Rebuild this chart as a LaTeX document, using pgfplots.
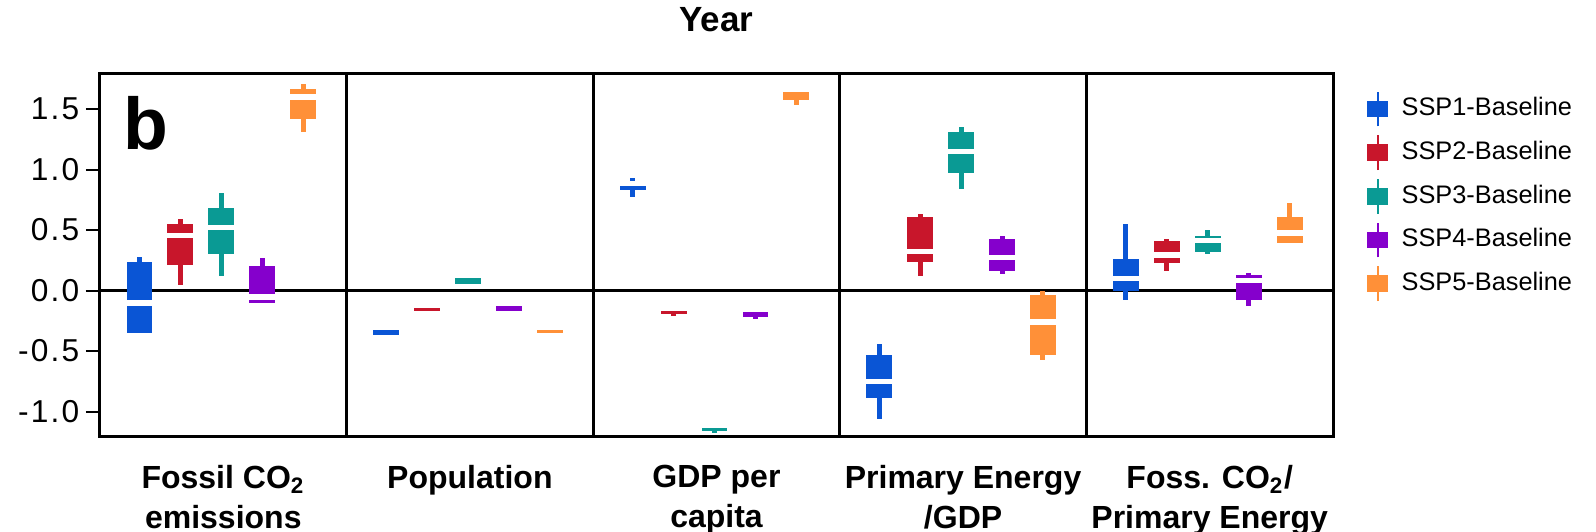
\documentclass[border=0pt]{standalone}
\usepackage{fontspec}
\setmainfont{Liberation Sans}
\newfontfamily\tickfont[LetterSpace=7]{Liberation Sans}
\usepackage{pgfplots}
\pgfplotsset{compat=1.18}
\usepgfplotslibrary{statistics}
\definecolor{ssp1}{HTML}{0A55D5}
\definecolor{ssp2}{HTML}{C8162B}
\definecolor{ssp3}{HTML}{0A9A94}
\definecolor{ssp4}{HTML}{8500CC}
\definecolor{ssp5}{HTML}{FF9038}
\pgfplotsset{
  sspbox/.style={
    boxplot/draw direction=y,
    boxplot/box extend=0.105,
    boxplot/whisker extend=0,
    boxplot/every box/.style={draw=none, fill=#1},
    boxplot/every whisker/.style={draw=#1, line width=1.5pt},
    boxplot/every median/.style={draw=white, line width=1.6pt},
    solid, mark=none, forget plot,
  },
  nomed/.style={boxplot/every median/.style={draw=none}},
}
% #1 colour, #2 extra style, #3 position, #4 lower whisker, #5 lower quartile, #6 median, #7 upper quartile, #8 upper whisker
\newcommand{\bx}[8]{\addplot[sspbox=#1, #2, boxplot prepared={draw position=#3, lower whisker=#4, lower quartile=#5, median=#6, upper quartile=#7, upper whisker=#8}] coordinates {};}
\newcommand{\legimg}[1]{\addlegendimage{legend image code/.code={
   \draw[#1, line width=0.5pt] (3pt,-5.2pt) -- (3pt,5.2pt);
   \fill[#1] (0pt,-2.3pt) rectangle (6pt,2.3pt);}}}
\begin{document}
\begin{tikzpicture}
\useasboundingbox (-30pt,-28.5pt) rectangle (448.8pt,131.1pt);
\begin{axis}[
  scale only axis, width=369.9pt, height=108.9pt,
  xmin=0, xmax=5, ymin=-1.21, ymax=1.79,
  axis line style={line width=0.9pt},
  ytick={-1,-0.5,0,0.5,1,1.5},
  yticklabels={-1.0,-0.5,0.0,0.5,1.0,1.5},
  ytick pos=left, tick align=outside, major tick length=4.2pt,
  ytick style={line width=0.6pt, black},
  yticklabel style={font=\tickfont\fontsize{9.5}{11}\selectfont, xshift=1.5pt},
  xtick={0.5,1.5,2.5,3.5,4.5},
  xticklabels={{Fossil CO\textsubscript{2}\\emissions},{Population},{GDP per\\capita},{Primary Energy\\/GDP},{Foss. CO\textsubscript{2}/\\Primary Energy}},
  xtick style={draw=none},
  xticklabel style={align=center, font=\bfseries\fontsize{9.6}{12}\selectfont, inner sep=0pt, yshift=-4pt},
  extra x ticks={1,2,3,4}, extra x tick labels={},
  extra x tick style={grid=major, major grid style={black, line width=0.9pt}},
  extra y ticks={0}, extra y tick labels={},
  extra y tick style={grid=major, major grid style={black, line width=0.75pt}},
  legend cell align=left,
  legend style={at={(1,1)}, anchor=north west, xshift=10pt, yshift=-4.9pt, draw=none, fill=none,
    font=\fontsize{7.6}{9}\selectfont, row sep=2.2pt, inner sep=0pt,
    nodes={text height=5.5pt, text depth=1.5pt, inner sep=1pt},
    /tikz/every odd column/.append style={column sep=3pt}},
]
\legimg{ssp1}\addlegendentry{SSP1-Baseline}
\legimg{ssp2}\addlegendentry{SSP2-Baseline}
\legimg{ssp3}\addlegendentry{SSP3-Baseline}
\legimg{ssp4}\addlegendentry{SSP4-Baseline}
\legimg{ssp5}\addlegendentry{SSP5-Baseline}
% Fossil CO2 emissions
\bx{ssp1}{}{0.160}{-0.35}{-0.35}{-0.103}{0.24}{0.28}
\bx{ssp2}{}{0.326}{0.05}{0.21}{0.455}{0.55}{0.59}
\bx{ssp3}{}{0.492}{0.12}{0.30}{0.523}{0.68}{0.81}
\bx{ssp4}{}{0.658}{-0.10}{-0.10}{-0.054}{0.205}{0.27}
\bx{ssp5}{}{0.824}{1.31}{1.417}{1.60}{1.666}{1.71}
% Population
\bx{ssp1}{nomed}{1.160}{-0.371}{-0.371}{-0.35}{-0.327}{-0.327}
\bx{ssp2}{nomed}{1.326}{-0.17}{-0.17}{-0.16}{-0.147}{-0.147}
\bx{ssp3}{nomed}{1.492}{0.054}{0.054}{0.08}{0.101}{0.101}
\bx{ssp4}{nomed}{1.658}{-0.170}{-0.170}{-0.15}{-0.126}{-0.126}
\bx{ssp5}{nomed}{1.824}{-0.352}{-0.352}{-0.34}{-0.327}{-0.327}
% GDP per capita
\bx{ssp1}{}{2.160}{0.77}{0.83}{0.887}{0.87}{0.93}
\bx{ssp2}{nomed}{2.326}{-0.211}{-0.195}{-0.18}{-0.167}{-0.167}
\bx{ssp3}{nomed}{2.492}{-1.174}{-1.157}{-1.145}{-1.133}{-1.133}
\bx{ssp4}{nomed}{2.658}{-0.238}{-0.217}{-0.2}{-0.175}{-0.175}
\bx{ssp5}{nomed}{2.824}{1.533}{1.571}{1.6}{1.641}{1.641}
% Primary Energy / GDP
\bx{ssp1}{}{3.160}{-1.06}{-0.885}{-0.751}{-0.53}{-0.44}
\bx{ssp2}{}{3.326}{0.12}{0.233}{0.321}{0.61}{0.63}
\bx{ssp3}{}{3.492}{0.84}{0.97}{1.147}{1.31}{1.35}
\bx{ssp4}{}{3.658}{0.14}{0.165}{0.276}{0.43}{0.45}
\bx{ssp5}{}{3.824}{-0.575}{-0.53}{-0.26}{-0.04}{0.0}
% Foss. CO2 / Primary Energy
\bx{ssp1}{}{4.160}{-0.08}{0.0}{0.099}{0.26}{0.55}
\bx{ssp2}{}{4.326}{0.165}{0.23}{0.295}{0.41}{0.43}
\bx{ssp3}{}{4.492}{0.30}{0.321}{0.415}{0.454}{0.50}
\bx{ssp4}{}{4.658}{-0.128}{-0.079}{0.081}{0.126}{0.142}
\bx{ssp5}{}{4.824}{0.39}{0.39}{0.477}{0.61}{0.72}
\node[anchor=base west, font=\bfseries\fontsize{22}{24}\selectfont, inner sep=0pt, xshift=7pt, yshift=-22.8pt] at (rel axis cs:0,1) {b};
\end{axis}
\node[anchor=base, font=\bfseries\fontsize{10.5}{12}\selectfont, inner sep=0pt] at ([yshift=12.6pt]current axis.north) {Year};
\end{tikzpicture}
\end{document}
